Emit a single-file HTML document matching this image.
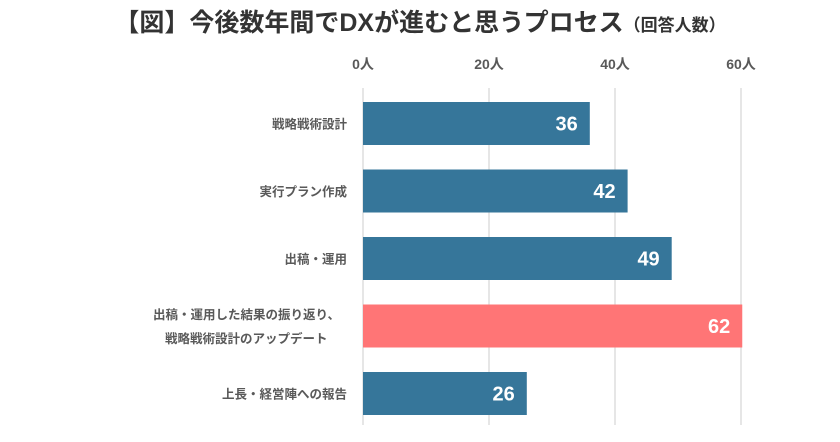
<!DOCTYPE html>
<html><head><meta charset="utf-8">
<style>
html,body{margin:0;padding:0;background:#fff;}
body{width:840px;height:437px;overflow:hidden;font-family:"Liberation Sans","Noto Sans CJK JP",sans-serif;}
svg text{font-family:"Liberation Sans","Noto Sans CJK JP",sans-serif;}
</style></head>
<body>
<svg id="chart" width="840" height="437" viewBox="0 0 840 437">
<text x="420" y="31" text-anchor="middle" font-size="25" font-weight="bold" fill="#333">【図】今後数年間でDXが進むと思うプロセス<tspan font-size="17">（回答人数）</tspan></text>
<g id="grid"></g><g id="bars"></g>
</svg>
<script>
const categories=[["戦略戦術設計"],["実行プラン作成"],["出稿・運用"],["出稿・運用した結果の振り返り、","戦略戦術設計のアップデート　"],["上長・経営陣への報告"]];
const values=[36,42,49,62,26];
const highlight=[false,false,false,true,false];
const ticks=[0,20,40,60];
const tickLabels=["0人","20人","40人","60人"];
const axisMax=60;
const x0=363,pxPer=6.3,top0=102,pitch=67.5,bh=43;
const xs=v=>x0+Math.min(v,axisMax+0.2)*pxPer;
const ns="http://www.w3.org/2000/svg";
const grid=document.getElementById('grid'),bars=document.getElementById('bars');
ticks.forEach((t,i)=>{
 const l=document.createElementNS(ns,'line');
 
 
 l.setAttribute('x1',xs(t));l.setAttribute('x2',xs(t));l.setAttribute('y1',88);l.setAttribute('y2',425);
 l.setAttribute('stroke','#d9d9d9');l.setAttribute('stroke-width','1.3');grid.appendChild(l);
 const tx=document.createElementNS(ns,'text');
 
 
 tx.setAttribute('x',xs(t));tx.setAttribute('y',69);tx.setAttribute('text-anchor','middle');
 tx.setAttribute('font-size','14');tx.setAttribute('font-weight','bold');tx.setAttribute('fill','#595959');
 tx.textContent=tickLabels[i];grid.appendChild(tx);
});
values.forEach((v,i)=>{
 const y=top0+i*pitch;
 const r=document.createElementNS(ns,'rect');
 
 
 r.setAttribute('x',x0);r.setAttribute('y',y);r.setAttribute('width',xs(v)-x0);r.setAttribute('height',bh);
 r.setAttribute('fill',highlight[i]?'#ff7576':'#36769a');bars.appendChild(r);
 const vt=document.createElementNS(ns,'text');
 
 
 vt.setAttribute('x',xs(v)-12);vt.setAttribute('y',y+bh/2+7);vt.setAttribute('text-anchor','end');
 vt.setAttribute('font-size','20');vt.setAttribute('font-weight','bold');vt.setAttribute('fill','#fff');
 vt.textContent=v;bars.appendChild(vt);
 const lines=categories[i];
 lines.forEach((s,j)=>{
  const ct=document.createElementNS(ns,'text');
  
  
  ct.setAttribute('x',lines.length>1?340:347);
  const cy=y+bh/2+5+(j-(lines.length-1)/2)*24;
  ct.setAttribute('y',cy);ct.setAttribute('text-anchor','end');
  ct.setAttribute('font-size','12.5');ct.setAttribute('font-weight','bold');ct.setAttribute('fill','#595959');
  ct.textContent=s;bars.appendChild(ct);
 });
});
</script>
</body></html>
